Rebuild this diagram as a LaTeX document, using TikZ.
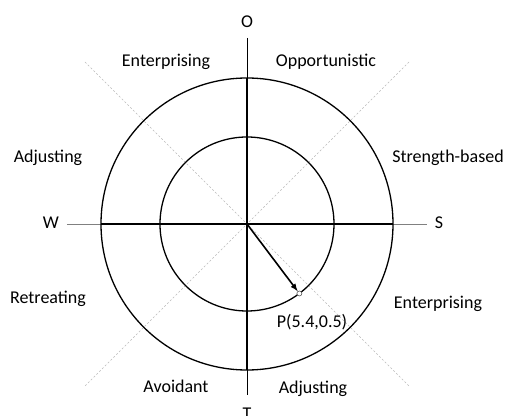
\documentclass[tikz,border=0pt]{standalone}
\usepackage{fontspec}
\setmainfont{Carlito}
\usetikzlibrary{arrows,positioning}

\begin{document}
\begin{tikzpicture}[x=1pt,y=1pt,
	lbl/.style={anchor=base,inner sep=0pt,font=\fontsize{18}{22}\selectfont},
	ring/.style={line width=1.3pt},
	guide/.style={gray!55,line width=0.6pt,dash pattern=on 2pt off 2pt}]
		\useasboundingbox (-247,-191) rectangle (259,224);
		% axes and diagonals
		\coordinate (c) at (0,0);
		\coordinate (north) at (0,186);
		\coordinate (south) at (0,-171);
		\coordinate (west) at (-180,0);
		\coordinate (east) at (180,0);
		\coordinate (nw) at (-162,162);
		\coordinate (se) at (162,-162);
		\coordinate (ne) at (162,162);
		\coordinate (sw) at (-162,-162);
		\draw[guide] (nw) -- (se);
		\draw[guide] (ne) -- (sw);
		\draw[line width=0.8pt] (north) -- (south);
		\draw[gray,line width=0.8pt] (west) -- (east);
		\draw[line width=2pt] (0,146) -- (0,-146);
		\draw[line width=1.6pt] (-146,0) -- (146,0);
		\draw[ring] (c) circle (146);
		\draw[ring] (c) circle (87);
		% point P
		\node[circle,draw=gray!70!black,fill=white,inner sep=0pt,minimum size=5pt,line width=0.6pt] (P) at (-53:87) {};
		\draw[line width=1.6pt,-latex] (c) -- (P);
		\node[lbl] (plbl) at (65,-103) {P(5.4,0.5)};
		% direction letters
		\node[lbl] (O) at (0,196) {O};
		\node[lbl] (T) at (0,-195) {T};
		\node[lbl] (W) at (-196,-5) {W};
		\node[lbl] (S) at (192,-5) {S};
		% sector names
		\node[lbl] (ent1) at (-81,157) {Enterprising};
		\node[lbl] (opp) at (79,157) {Opportunistic};
		\node[lbl] (adj1) at (-199,61) {Adjusting};
		\node[lbl] (str) at (201,61) {Strength-based};
		\node[lbl] (ret) at (-199,-79) {Retreating};
		\node[lbl] (ent2) at (191,-84) {Enterprising};
		\node[lbl] (avo) at (-71,-168) {Avoidant};
		\node[lbl] (adj2) at (66,-169) {Adjusting};
\end{tikzpicture}
\end{document}
